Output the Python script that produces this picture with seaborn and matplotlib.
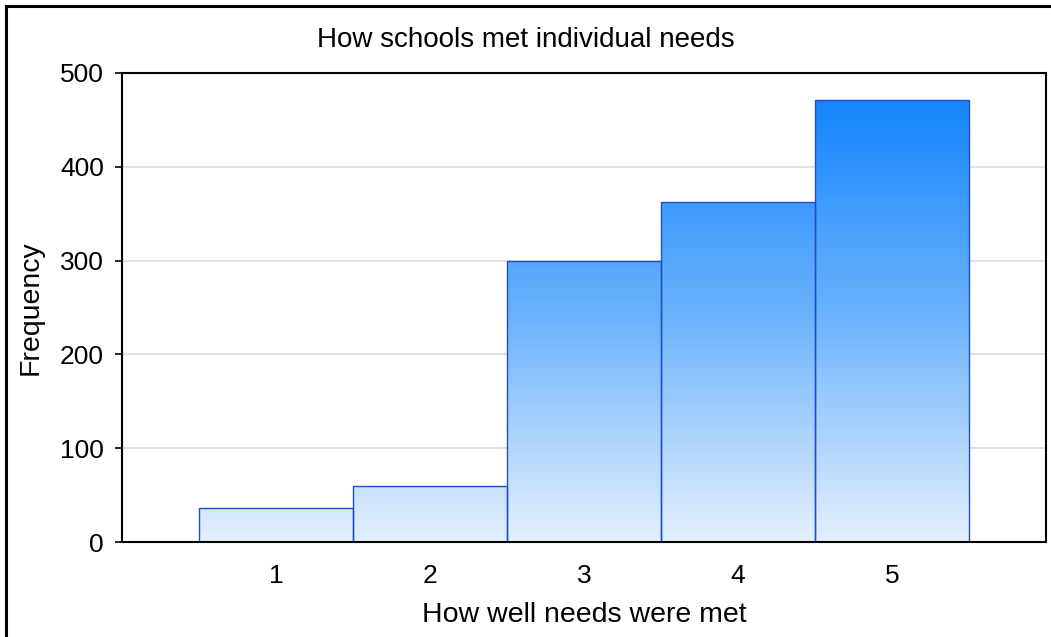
import numpy as np
import pandas as pd
import matplotlib
matplotlib.use("Agg")
import matplotlib.pyplot as plt
from matplotlib.colors import LinearSegmentedColormap
from matplotlib.patches import Rectangle
import seaborn as sns

# Survey responses: how well individual needs were met (1-5 scale)
ratings = [1, 2, 3, 4, 5]
frequency = [36, 60, 300, 362, 471]
y_ticks = [0, 100, 200, 300, 400, 500]

sns.set_theme(style="white")
plt.rcParams["font.family"] = ["Liberation Sans", "DejaVu Sans"]
plt.rcParams["text.color"] = "black"
plt.rcParams["axes.labelcolor"] = "black"
plt.rcParams["xtick.color"] = "black"
plt.rcParams["ytick.color"] = "black"

fig = plt.figure(figsize=(10.51, 6.37), dpi=100)
ax = fig.add_axes([122 / 1051, 1 - 542 / 637, (1046 - 122) / 1051, (542 - 73) / 637])

df = pd.DataFrame({"rating": ratings, "freq": frequency})
sns.barplot(data=df, x="rating", y="freq", native_scale=True, width=1.0,
            color="#4a9cfb", edgecolor="#1f4fc8", linewidth=1.0, ax=ax, zorder=2)

ax.set_xlim(0, 6)
ax.set_ylim(0, 500)

# vertical blue gradient clipped to each bar
grad_cmap = LinearSegmentedColormap.from_list("blues", ["#e4f0fd", "#6cb3fc", "#1283fe"])
gradient = np.linspace(0, 1, 256).reshape(-1, 1)
for patch in ax.patches:
    x0 = patch.get_x()
    im = ax.imshow(gradient, cmap=grad_cmap, origin="lower", aspect="auto",
                   extent=[x0, x0 + patch.get_width(), 0, 480], zorder=2.1)
    im.set_clip_path(patch)
    patch.set_facecolor("none")
    patch.set_zorder(2.2)

ax.set_xlim(0, 6)
ax.set_ylim(0, 500)
ax.set_xticks(ratings)
ax.set_xticklabels([str(r) for r in ratings])
ax.set_yticks(y_ticks)
ax.yaxis.grid(True, color="#dcdcdc", linewidth=1.2, zorder=0)
ax.xaxis.grid(False)
ax.set_axisbelow(True)

for side in ["left", "bottom", "top", "right"]:
    ax.spines[side].set_visible(True)
    ax.spines[side].set_color("black")
    ax.spines[side].set_linewidth(1.5)

ax.tick_params(axis="y", which="both", left=True, length=5, width=1.2, color="black",
               labelsize=19, pad=8, labelcolor="black")
ax.tick_params(axis="x", bottom=False, labelsize=19, pad=10, labelcolor="black")

ax.set_xlabel("How well needs were met", fontsize=20.5, labelpad=10, color="black")
ax.set_ylabel("Frequency", fontsize=20.5, labelpad=12, color="black")
fig.suptitle("How schools met individual needs", x=0.5, y=1 - 40 / 637,
             va="center", fontsize=20, color="black")

# outer frame around the figure
fig.patches.append(Rectangle((6 / 1051, -0.1), 1.2, 1.1 - 6 / 637,
                             transform=fig.transFigure, fill=False,
                             edgecolor="black", linewidth=2.2))

fig.savefig("out.png", dpi=100, facecolor="white")
